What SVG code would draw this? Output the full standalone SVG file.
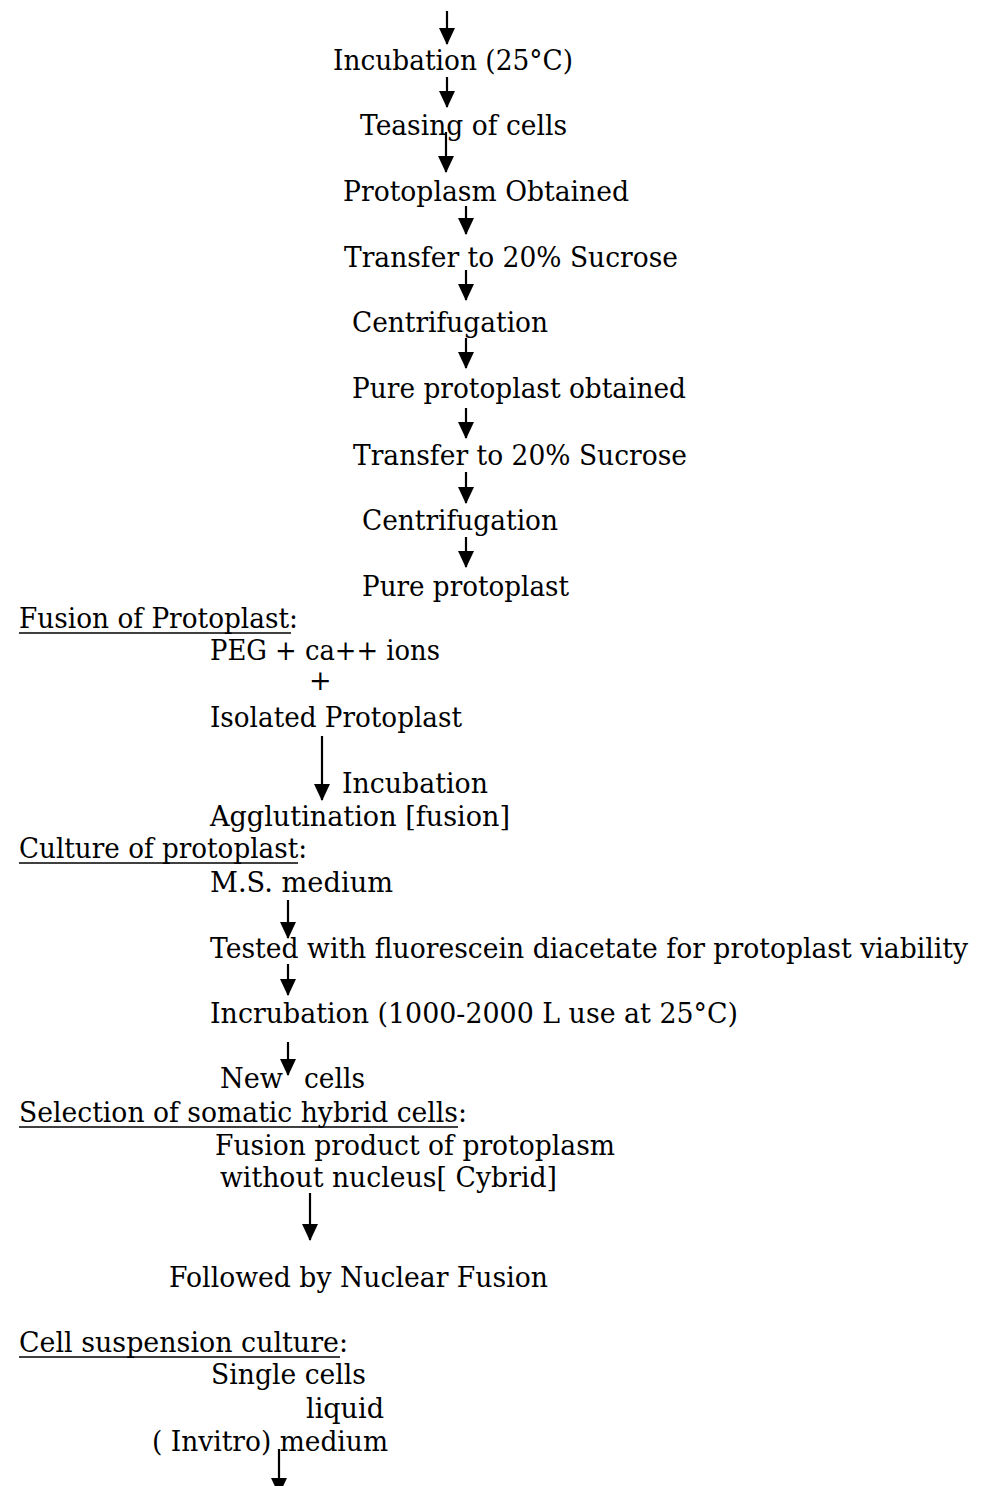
<svg xmlns="http://www.w3.org/2000/svg" width="988" height="1486" viewBox="0 0 988 1486">
<style>
text{font-family:"DejaVu Serif","Liberation Serif",serif;font-size:27px;fill:#000}
.c line{stroke:#000;stroke-width:2.2;marker-end:url(#ah)}
.u{stroke:#000;stroke-width:1.6}
</style>
<defs>
<marker id="ah" markerUnits="userSpaceOnUse" markerWidth="17" markerHeight="16" refX="16" refY="8" orient="auto" viewBox="0 0 17 16"><path d="M0,0 L17,8 L0,16 z" fill="#000"/></marker>
</defs>
<rect width="988" height="1486" fill="#fff"/>
<g id="connectors" class="c">
<line x1="447" y1="11" x2="447" y2="44"/>
<line x1="447" y1="77" x2="447" y2="107"/>
<line x1="446" y1="132" x2="446" y2="172"/>
<line x1="466" y1="206" x2="466" y2="234"/>
<line x1="466" y1="270" x2="466" y2="300"/>
<line x1="466" y1="338" x2="466" y2="368"/>
<line x1="466" y1="408" x2="466" y2="438"/>
<line x1="466" y1="472" x2="466" y2="503"/>
<line x1="466" y1="537" x2="466" y2="567"/>
<line x1="322" y1="736" x2="322" y2="800"/>
<line x1="288" y1="900" x2="288" y2="938"/>
<line x1="288" y1="964" x2="288" y2="995"/>
<line x1="288" y1="1042" x2="288" y2="1075"/>
<line x1="310" y1="1193" x2="310" y2="1240"/>
<line x1="279" y1="1449" x2="279" y2="1494"/>
</g>
<g id="n1"><text x="333" y="70" textLength="240" lengthAdjust="spacingAndGlyphs">Incubation (25°C)</text></g>
<g id="n2"><text x="360" y="135" textLength="207" lengthAdjust="spacingAndGlyphs">Teasing of cells</text></g>
<g id="n3"><text x="343" y="201" textLength="286" lengthAdjust="spacingAndGlyphs">Protoplasm Obtained</text></g>
<g id="n4"><text x="344" y="267" textLength="334" lengthAdjust="spacingAndGlyphs">Transfer to 20% Sucrose</text></g>
<g id="n5"><text x="352" y="332" textLength="196" lengthAdjust="spacingAndGlyphs">Centrifugation</text></g>
<g id="n6"><text x="352" y="398" textLength="334" lengthAdjust="spacingAndGlyphs">Pure protoplast obtained</text></g>
<g id="n7"><text x="353" y="465" textLength="334" lengthAdjust="spacingAndGlyphs">Transfer to 20% Sucrose</text></g>
<g id="n8"><text x="362" y="530" textLength="196" lengthAdjust="spacingAndGlyphs">Centrifugation</text></g>
<g id="n9"><text x="362" y="596" textLength="207" lengthAdjust="spacingAndGlyphs">Pure protoplast</text></g>
<g id="h1"><text x="19" y="628" textLength="279" lengthAdjust="spacingAndGlyphs">Fusion of Protoplast:</text><line class="u" x1="19" y1="633" x2="291" y2="633"/></g>
<g id="n10"><text x="210" y="660" textLength="230" lengthAdjust="spacingAndGlyphs">PEG + ca++ ions</text></g>
<g id="n11"><text x="309" y="690">+</text></g>
<g id="n12"><text x="210" y="727" textLength="252" lengthAdjust="spacingAndGlyphs">Isolated Protoplast</text></g>
<g id="n13"><text x="342" y="793" textLength="146" lengthAdjust="spacingAndGlyphs">Incubation</text></g>
<g id="n14"><text x="210" y="826" textLength="300" lengthAdjust="spacingAndGlyphs">Agglutination [fusion]</text></g>
<g id="h2"><text x="19" y="858" textLength="288" lengthAdjust="spacingAndGlyphs">Culture of protoplast:</text><line class="u" x1="19" y1="863" x2="298" y2="863"/></g>
<g id="n15"><text x="210" y="892" textLength="183" lengthAdjust="spacingAndGlyphs">M.S. medium</text></g>
<g id="n16"><text x="210" y="958" textLength="758" lengthAdjust="spacingAndGlyphs">Tested with fluorescein diacetate for protoplast viability</text></g>
<g id="n17"><text x="210" y="1023" textLength="528" lengthAdjust="spacingAndGlyphs">Incrubation (1000-2000 L use at 25°C)</text></g>
<g id="n18"><text x="220" y="1088" textLength="63" lengthAdjust="spacingAndGlyphs">New</text><text x="304" y="1088" textLength="61" lengthAdjust="spacingAndGlyphs">cells</text></g>
<g id="h3"><text x="19" y="1122" textLength="448" lengthAdjust="spacingAndGlyphs">Selection of somatic hybrid cells:</text><line class="u" x1="19" y1="1127" x2="458" y2="1127"/></g>
<g id="n19"><text x="215" y="1155" textLength="400" lengthAdjust="spacingAndGlyphs">Fusion product of protoplasm</text></g>
<g id="n20"><text x="220" y="1187" textLength="337" lengthAdjust="spacingAndGlyphs">without nucleus[ Cybrid]</text></g>
<g id="n21"><text x="169" y="1287" textLength="379" lengthAdjust="spacingAndGlyphs">Followed by Nuclear Fusion</text></g>
<g id="h4"><text x="19" y="1352" textLength="329" lengthAdjust="spacingAndGlyphs">Cell suspension culture:</text><line class="u" x1="19" y1="1357" x2="340" y2="1357"/></g>
<g id="n22"><text x="211" y="1384" textLength="155" lengthAdjust="spacingAndGlyphs">Single cells</text></g>
<g id="n23"><text x="306" y="1418" textLength="78" lengthAdjust="spacingAndGlyphs">liquid</text></g>
<g id="n24"><text x="152" y="1451" textLength="236" lengthAdjust="spacingAndGlyphs">( Invitro) medium</text></g>
</svg>
